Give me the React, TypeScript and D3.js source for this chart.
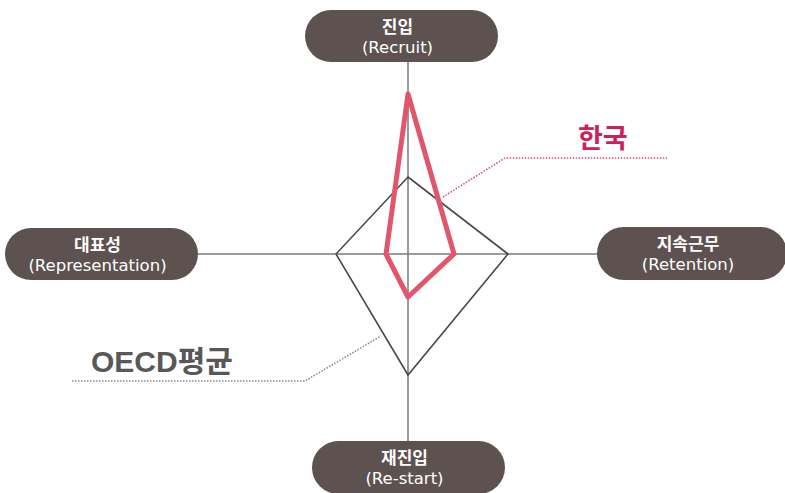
import React, { useEffect, useRef } from 'react';
import * as d3 from 'd3';

// axis order: up, right, down, left
const axisKo = ['진입', '지속근무', '재진입', '대표성'];
const axisEn = ['(Recruit)', '(Retention)', '(Re-start)', '(Representation)'];
const korea = [160, 46, 43, 22];
const oecd = [77, 100, 121, 72];

const App = () => {
  const ref = useRef<SVGSVGElement>(null);

  useEffect(() => {
    const width = 785;
    const height = 493;
    const cx = 408;
    const cy = 254;
    const font = '"Liberation Sans", "Noto Sans CJK KR", sans-serif';

    const svg = d3.select(ref.current);
    svg.selectAll('*').remove();

    const r = d3.scaleLinear().domain([0, 100]).range([0, 100]);
    const angle = (i: number) => -Math.PI / 2 + (i * Math.PI) / 2;
    const pt = (v: number, i: number): [number, number] => [
      cx + r(v) * Math.cos(angle(i)),
      cy + r(v) * Math.sin(angle(i)),
    ];

    // axes
    svg.append('line').attr('x1', cx).attr('x2', cx).attr('y1', 60).attr('y2', 442)
      .attr('stroke', '#7a7a7a').attr('stroke-width', 1.5);
    svg.append('line').attr('x1', 198).attr('x2', 598).attr('y1', cy).attr('y2', cy)
      .attr('stroke', '#7a7a7a').attr('stroke-width', 1.5);

    const line = d3.line<number>().x((d, i) => pt(d, i)[0]).y((d, i) => pt(d, i)[1])
      .curve(d3.curveLinearClosed);

    svg.append('path').attr('d', line(oecd))
      .attr('fill', 'none').attr('stroke', '#4a4a4a').attr('stroke-width', 1.6);

    svg.append('path').attr('d', line(korea))
      .attr('fill', 'none').attr('stroke', '#e2566d').attr('stroke-width', 5)
      .attr('stroke-linejoin', 'round');

    // leader lines
    svg.append('path').attr('d', 'M443,197 L505,158 L667,158')
      .attr('fill', 'none').attr('stroke', '#c8557a').attr('stroke-width', 1.6)
      .attr('stroke-dasharray', '1.5 1.5');
    svg.append('path').attr('d', 'M72,381 L305,381 L381,336')
      .attr('fill', 'none').attr('stroke', '#8a8a8a').attr('stroke-width', 1.6)
      .attr('stroke-dasharray', '1.5 1.5');

    svg.append('text').attr('x', 578).attr('y', 148).text('한국')
      .attr('font-family', '"Noto Sans CJK KR", sans-serif').attr('font-weight', 700)
      .attr('font-size', 27).attr('fill', '#c9235a');
    svg.append('text').attr('x', 91).attr('y', 372).text('OECD평균')
      .attr('font-family', font).attr('font-weight', 700)
      .attr('font-size', 30).attr('fill', '#585858');

    // label pills
    const pills = [
      { x: 305, y: 10, w: 193, h: 52 },
      { x: 597, y: 227, w: 190, h: 53 },
      { x: 312, y: 441, w: 193, h: 53 },
      { x: 5, y: 228, w: 193, h: 52 },
    ];
    pills.forEach((p, i) => {
      const g = svg.append('g');
      g.append('rect').attr('x', p.x).attr('y', p.y).attr('width', p.w).attr('height', p.h)
        .attr('rx', p.h / 2).attr('fill', '#5d5250');
      const mx = p.x + p.w / 2 - 4;
      g.append('text').attr('x', mx).attr('y', p.y + 23).attr('text-anchor', 'middle')
        .attr('font-family', '"Noto Sans CJK KR", sans-serif').attr('font-weight', 700)
        .attr('font-size', 17).attr('fill', '#fff').text(axisKo[i]);
      g.append('text').attr('x', mx).attr('y', p.y + 43).attr('text-anchor', 'middle')
        .attr('font-family', '"DejaVu Sans", sans-serif').attr('font-size', 16.5)
        .attr('fill', '#fff').text(axisEn[i]);
    });

    svg.attr('width', width).attr('height', height);
  }, []);

  return (
    <svg ref={ref} width={785} height={493}
      style={{ position: 'absolute', left: 0, top: 0, background: '#fff' }} />
  );
};

export default App;
